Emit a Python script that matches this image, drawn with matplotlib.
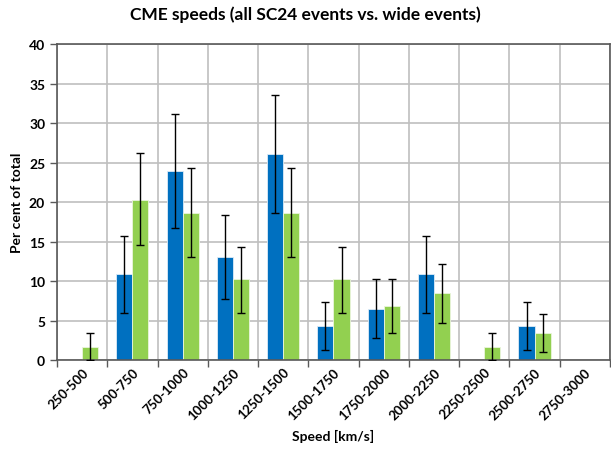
import numpy as np
import matplotlib.pyplot as plt

plt.rcParams['font.family'] = ['Lato', 'DejaVu Sans']

# speed bins and per-cent values
bins = ['250-500', '500-750', '750-1000', '1000-1250', '1250-1500', '1500-1750',
        '1750-2000', '2000-2250', '2250-2500', '2500-2750', '2750-3000']
all_sc24 = [0, 10.9, 23.9, 13.0, 26.1, 4.3, 6.5, 10.9, 0, 4.3, 0]
all_lo = [0, 6.0, 16.7, 7.7, 18.6, 1.3, 2.8, 6.0, 0, 1.3, 0]
all_hi = [0, 15.7, 31.1, 18.4, 33.6, 7.4, 10.3, 15.7, 0, 7.4, 0]
wide = [1.7, 20.3, 18.6, 10.2, 18.6, 10.2, 6.8, 8.5, 1.7, 3.4, 0]
wide_lo = [0, 14.5, 13.0, 6.0, 13.0, 6.0, 3.4, 4.7, 0, 1.0, 0]
wide_hi = [3.4, 26.2, 24.3, 14.3, 24.3, 14.3, 10.2, 12.2, 3.4, 5.8, 0]

x = np.arange(len(bins))
w = 0.32

fig = plt.figure(figsize=(6.11, 4.52), dpi=100)
ax = fig.add_axes([0.0933, 0.2013, 0.905, 0.699])

blue = np.array(all_sc24)
green = np.array(wide)
blue_err = [blue - np.array(all_lo), np.array(all_hi) - blue]
green_err = [green - np.array(wide_lo), np.array(wide_hi) - green]

# only show error bars where there is a bar
bmask = blue > 0
gmask = green > 0

ax.bar(x - w / 2, blue, w, color='#0070C0', edgecolor='#DDEBF7', linewidth=0.6, zorder=2)
ax.bar(x + w / 2, green, w, color='#92D050', edgecolor='#EAF5DC', linewidth=0.6, zorder=2)
ax.errorbar(x[bmask] - w / 2, blue[bmask],
            yerr=[blue_err[0][bmask], blue_err[1][bmask]],
            fmt='none', ecolor='black', elinewidth=1, capsize=3, capthick=1, zorder=3)
ax.errorbar(x[gmask] + w / 2, green[gmask],
            yerr=[green_err[0][gmask], green_err[1][gmask]],
            fmt='none', ecolor='black', elinewidth=1, capsize=3, capthick=1, zorder=3)

ax.set_xlim(-0.5, len(bins) - 0.5)
ax.set_ylim(0, 40)
ax.set_yticks(np.arange(0, 41, 5))
ax.set_yticklabels([str(v) for v in range(0, 41, 5)], fontsize=10, fontweight='bold')

# category boundaries get the ticks and vertical grid lines
ax.set_xticks(np.arange(-0.5, len(bins), 1))
ax.set_xticklabels([])
ax.set_xticks(x, minor=True)
ax.set_xticklabels(bins, minor=True, rotation=45, ha='right', rotation_mode='anchor',
                   fontsize=9.5, fontweight='bold')
ax.tick_params(axis='x', which='minor', length=0, pad=4)
ax.tick_params(axis='x', which='major', length=5, color='#595959', width=1)
ax.tick_params(axis='y', length=5, color='#595959', width=1)

ax.grid(True, which='major', color='#BFBFBF', linewidth=1.2, zorder=0)
ax.set_axisbelow(True)
for s in ax.spines.values():
    s.set_color('#595959')
    s.set_linewidth(1.2)

ax.set_ylabel('Per cent of total', fontsize=10, fontweight='bold', labelpad=4)
ax.set_xlabel('Speed [km/s]', fontsize=10, fontweight='bold', labelpad=6)
fig.suptitle('CME speeds (all SC24 events vs. wide events)', fontsize=12.5,
             fontweight='bold', y=0.985)

fig.savefig('out.png', dpi=100)
